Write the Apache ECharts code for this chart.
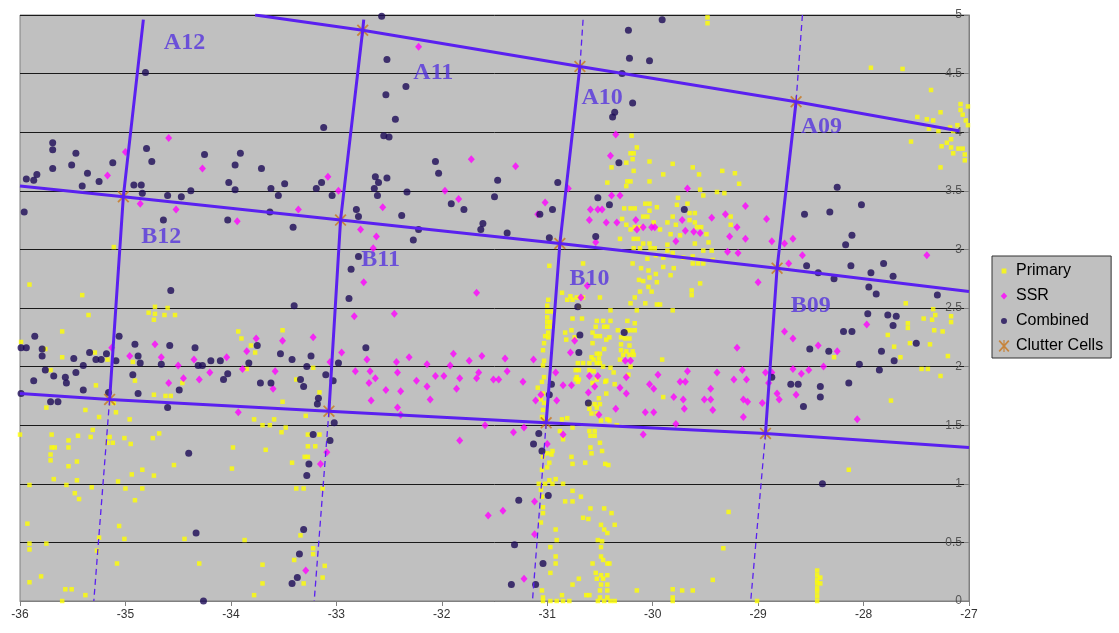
<!DOCTYPE html>
<html>
<head>
<meta charset="utf-8">
<script src="https://cdn.jsdelivr.net/npm/echarts@6/dist/echarts.min.js"></script>
<style>html,body{margin:0;padding:0;background:#fff}#c{width:1119px;height:633px}</style>
</head>
<body>
<div id="c"></div>
<script>
// ---------- data (x = longitude-like value, y = value) ----------
const primaryWest = [[-34.72,2.51],[-34.60,2.50],[-34.78,2.46],[-34.72,2.45],[-34.63,2.44],[-34.53,2.44],[-34.73,2.40],[-35.35,2.44],[-35.60,2.30],[-33.93,2.30],[-33.90,2.24],[-33.51,2.31],[-35.99,2.21],[-35.76,2.15],[-35.60,2.08],[-35.17,2.06],[-35.29,2.12],[-34.93,2.04],[-35.71,1.97],[-33.85,1.98],[-33.81,2.18],[-33.77,2.12],[-35.28,1.84],[-34.91,1.88],[-34.46,1.86],[-34.73,1.76],[-34.62,1.75],[-34.57,1.75],[-33.22,1.99],[-33.38,1.89],[-33.16,1.78],[-35.11,1.69],[-35.09,1.61],[-35.38,1.63],[-35.75,1.65],[-35.25,1.57],[-34.96,1.55],[-33.51,1.70],[-33.29,1.58],[-33.78,1.55],[-33.59,1.55],[-33.70,1.50],[-33.63,1.50],[-33.48,1.48],[-33.52,1.44],[-35.31,1.46],[-35.33,1.40],[-36.00,1.42],[-35.70,1.42],[-35.45,1.41],[-35.15,1.40],[-35.12,1.35],[-35.17,1.35],[-35.01,1.39],[-34.95,1.34],[-34.74,1.39],[-34.68,1.43],[-35.54,1.37],[-35.70,1.31],[-35.67,1.31],[-35.54,1.31],[-35.71,1.25],[-35.71,1.20],[-35.46,1.19],[-35.54,1.15],[-35.68,1.04],[-35.46,1.03],[-35.91,0.99],[-35.56,0.99],[-35.48,0.92],[-35.44,0.87],[-35.32,0.97],[-35.07,1.02],[-35.00,0.96],[-34.94,1.08],[-34.84,1.12],[-34.84,0.96],[-34.73,1.07],[-34.91,0.86],[-34.54,1.16],[-33.98,1.31],[-33.99,1.13],[-33.67,1.29],[-33.27,1.42],[-33.16,1.42],[-33.27,1.32],[-33.20,1.32],[-33.42,1.18],[-33.30,1.23],[-33.27,1.23],[-33.38,0.96],[-33.31,0.96],[-33.13,0.96],[-35.93,0.66],[-35.91,0.49],[-35.91,0.44],[-35.75,0.49],[-35.06,0.64],[-35.01,0.53],[-35.25,0.54],[-34.44,0.53],[-33.87,0.52],[-33.34,0.56],[-33.22,0.45],[-33.22,0.40],[-33.40,0.35],[-35.08,0.32],[-34.30,0.32],[-33.70,0.31],[-33.11,0.30],[-35.80,0.21],[-35.91,0.16],[-35.57,0.10],[-35.51,0.10],[-35.38,0.05],[-35.60,0.00],[-33.78,0.05],[-33.70,0.15],[-33.31,0.15],[-33.13,0.20],[-35.27,0.43],[-35.11,3.02],[-35.91,2.70],[-35.41,2.61]];

const primaryCentre = [[-30.99,2.57],[-31.00,2.52],[-31.00,2.47],[-30.96,2.47],[-31.00,2.42],[-31.00,2.38],[-30.97,2.38],[-31.00,2.34],[-30.97,2.34],[-30.99,2.29],[-30.99,2.25],[-31.03,2.20],[-31.04,2.14],[-31.03,2.05],[-31.04,2.01],[-31.03,1.91],[-31.05,1.87],[-31.09,1.82],[-31.04,1.77],[-31.06,1.72],[-31.03,1.69],[-31.04,1.63],[-31.05,1.57],[-31.03,1.54],[-30.98,2.86],[-30.66,2.88],[-30.86,2.63],[-30.78,2.60],[-30.72,2.59],[-30.81,2.57],[-30.76,2.57],[-30.70,2.51],[-30.67,2.41],[-30.76,2.41],[-30.77,2.31],[-30.83,2.29],[-30.82,2.23],[-30.74,2.25],[-30.66,2.59],[-30.50,2.59],[-30.40,2.48],[-30.21,2.54],[-30.15,2.48],[-29.93,2.53],[-29.81,2.48],[-30.07,2.54],[-29.96,2.53],[-30.17,2.59],[-30.12,2.64],[-30.01,2.64],[-30.04,2.68],[-29.63,2.65],[-29.63,2.61],[-30.53,2.39],[-30.47,2.39],[-30.40,2.39],[-30.24,2.39],[-30.17,2.37],[-30.24,2.31],[-30.21,2.31],[-30.17,2.31],[-30.54,2.34],[-30.43,2.34],[-30.41,2.25],[-30.57,2.20],[-30.30,2.25],[-30.26,2.24],[-30.22,2.24],[-30.30,2.19],[-30.22,2.18],[-31.02,2.26],[-30.53,2.11],[-30.50,2.11],[-30.30,2.14],[-30.25,2.13],[-30.19,2.13],[-30.28,2.10],[-30.22,2.10],[-30.18,2.10],[-30.71,2.03],[-30.66,2.03],[-30.60,2.03],[-30.53,2.03],[-30.50,2.03],[-30.58,2.08],[-30.51,2.07],[-29.91,2.06],[-30.47,2.00],[-30.37,1.95],[-30.23,1.93],[-30.73,1.97],[-30.70,1.97],[-30.73,1.89],[-30.70,1.89],[-30.71,1.87],[-30.45,1.87],[-30.57,1.86],[-30.44,1.77],[-30.51,1.73],[-30.60,1.68],[-30.55,1.68],[-30.50,1.68],[-30.60,1.64],[-30.53,1.65],[-30.58,1.60],[-30.53,1.60],[-30.43,1.55],[-29.90,1.74],[-30.34,1.50],[-30.86,1.55],[-30.81,1.56],[-30.88,1.45],[-30.85,1.38],[-30.60,1.45],[-30.55,1.45],[-30.59,1.41],[-30.55,1.41],[-30.59,1.31],[-30.50,1.35],[-30.48,1.28],[-30.58,1.26],[-30.64,1.18],[-30.45,1.17],[-30.42,1.16],[-30.77,1.23],[-30.76,1.17],[-31.00,1.26],[-30.96,1.25],[-30.98,1.18],[-31.05,1.12],[-30.98,1.03],[-31.08,1.00],[-31.02,1.00],[-30.95,1.00],[-30.85,1.00],[-30.92,1.04],[-30.76,0.94],[-30.83,0.85],[-30.76,0.85],[-30.68,0.89],[-31.06,0.95],[-31.05,0.89],[-31.04,0.80],[-31.04,0.75],[-31.06,0.67],[-30.59,0.79],[-30.46,0.79],[-30.39,0.75],[-30.66,0.71],[-30.61,0.70],[-30.49,0.65],[-30.36,0.65],[-30.46,0.61],[-30.43,0.58],[-30.92,0.61],[-30.91,0.52],[-30.52,0.52],[-30.48,0.51],[-30.49,0.46],[-30.97,0.46],[-30.92,0.38],[-30.92,0.32],[-30.49,0.38],[-30.47,0.35],[-30.43,0.32],[-30.57,0.32],[-30.97,0.24],[-30.70,0.19],[-30.54,0.24],[-30.49,0.22],[-30.43,0.22],[-30.53,0.19],[-30.47,0.19],[-30.49,0.14],[-30.43,0.14],[-30.76,0.14],[-30.63,0.05],[-30.60,0.05],[-30.50,0.09],[-30.43,0.09],[-30.50,0.03],[-30.43,0.03],[-31.05,0.09],[-31.04,0.03],[-30.86,0.05],[-31.04,0.00],[-30.97,0.00],[-30.91,0.00],[-30.85,0.00],[-30.79,0.00],[-30.52,0.00],[-30.46,0.00],[-30.40,0.00],[-30.15,0.09],[-29.81,0.10],[-29.81,0.03],[-29.81,0.00],[-29.72,0.09],[-29.62,0.09],[-29.43,0.18],[-29.33,0.45],[-29.28,0.76],[-29.01,0.00],[-30.41,0.32],[-30.36,0.00],[-30.95,1.28],[-31.00,1.14],[-31.04,1.23],[-30.46,2.34],[-30.57,2.29],[-30.54,2.26],[-30.50,2.26],[-30.44,2.23],[-30.46,2.15],[-30.56,2.06],[-30.60,1.97],[-30.56,1.96],[-30.72,1.91],[-30.53,1.89],[-30.44,1.88],[-30.33,2.31],[-30.31,2.06],[-30.21,2.00],[-30.49,1.54],[-30.41,1.54],[-30.76,1.48],[-30.36,1.85],[-30.40,1.99]];

const primaryUpper = [[-30.20,3.97],[-30.15,3.87],[-30.21,3.82],[-30.18,3.82],[-30.19,3.77],[-30.25,3.74],[-30.39,3.70],[-30.03,3.75],[-29.81,3.73],[-29.62,3.70],[-30.18,3.67],[-29.90,3.64],[-29.56,3.64],[-29.34,3.67],[-29.22,3.65],[-30.43,3.57],[-30.24,3.58],[-30.21,3.58],[-30.25,3.54],[-30.03,3.58],[-29.18,3.56],[-29.55,3.51],[-29.52,3.46],[-29.39,3.49],[-29.32,3.48],[-29.76,3.44],[-29.77,3.38],[-29.67,3.39],[-30.27,3.35],[-30.21,3.35],[-30.17,3.35],[-30.07,3.39],[-30.03,3.39],[-29.96,3.36],[-30.03,3.33],[-30.29,3.26],[-30.09,3.28],[-30.05,3.28],[-30.25,3.21],[-30.17,3.19],[-30.12,3.19],[-30.21,3.17],[-29.99,3.23],[-29.93,3.17],[-29.86,3.23],[-29.81,3.28],[-29.78,3.21],[-29.83,3.13],[-29.74,3.12],[-29.65,3.31],[-29.60,3.31],[-29.65,3.25],[-29.60,3.23],[-29.58,3.19],[-29.54,3.19],[-29.49,3.13],[-29.60,3.05],[-29.47,3.06],[-29.52,2.99],[-29.44,2.99],[-29.26,3.28],[-29.26,3.21],[-30.31,3.09],[-30.18,3.09],[-30.14,3.09],[-30.09,3.05],[-30.03,3.05],[-30.18,3.01],[-30.12,3.01],[-30.02,3.01],[-29.98,3.01],[-29.86,3.04],[-29.86,2.99],[-30.05,2.92],[-29.97,2.95],[-29.90,2.93],[-29.81,2.97],[-29.71,2.93],[-29.62,2.88],[-29.57,2.88],[-29.52,2.88],[-29.62,2.94],[-29.43,2.91],[-30.19,2.88],[-30.11,2.84],[-30.04,2.82],[-30.03,2.76],[-29.97,2.79],[-29.90,2.85],[-29.80,2.84],[-29.83,2.78],[-30.13,2.74],[-30.09,2.73],[-29.96,2.72],[-29.55,2.71],[-29.48,4.98],[-29.48,4.93]];

const primaryEast = [[-27.93,4.55],[-27.63,4.54],[-27.36,4.36],[-27.27,4.17],[-27.49,4.13],[-27.40,4.11],[-27.34,4.10],[-27.38,4.03],[-27.29,4.01],[-27.55,3.92],[-27.26,3.88],[-27.21,3.91],[-27.17,3.94],[-27.17,3.87],[-27.10,3.86],[-27.06,3.86],[-27.15,3.82],[-27.04,3.81],[-27.04,3.76],[-27.27,3.70],[-27.08,4.24],[-27.01,4.22],[-27.08,4.19],[-27.06,4.15],[-27.03,4.10],[-27.01,4.06],[-27.11,4.06],[-27.15,4.01],[-27.18,4.04],[-27.60,2.54],[-27.34,2.49],[-27.32,2.44],[-27.43,2.41],[-27.35,2.40],[-27.58,2.37],[-27.58,2.33],[-27.17,2.43],[-27.17,2.38],[-27.33,2.31],[-27.25,2.30],[-27.77,2.27],[-27.56,2.20],[-27.37,2.19],[-27.71,2.17],[-27.65,2.08],[-28.28,2.08],[-27.20,2.09],[-27.45,1.98],[-27.39,1.98],[-27.27,1.92],[-27.74,1.71],[-28.14,1.12],[-28.44,0.26],[-28.44,0.22],[-28.44,0.18],[-28.44,0.15],[-28.44,0.11],[-28.44,0.08],[-28.44,0.04],[-28.44,0.00],[-28.41,0.20],[-28.41,0.15]];

const ssrEast = [[-34.59,3.95],[-35.00,3.83],[-34.27,3.69],[-35.17,3.63],[-33.08,3.62],[-32.98,3.50],[-34.86,3.39],[-34.52,3.34],[-33.36,3.34],[-33.94,3.24],[-32.56,3.36],[-32.77,3.17],[-32.62,3.11],[-32.65,3.01],[-32.74,2.72],[-32.83,2.43],[-32.45,2.45],[-32.22,4.73],[-30.35,3.98],[-30.40,3.80],[-31.72,3.77],[-31.30,3.71],[-31.97,3.50],[-31.84,3.43],[-30.80,3.52],[-31.02,3.40],[-31.09,3.30],[-30.59,3.34],[-30.52,3.34],[-30.48,3.34],[-30.60,3.25],[-30.44,3.23],[-30.34,3.23],[-30.39,3.46],[-30.31,3.46],[-30.16,3.25],[-30.15,3.17],[-30.09,3.19],[-30.01,3.19],[-29.98,3.19],[-30.54,3.06],[-29.67,3.52],[-29.72,3.25],[-29.69,3.16],[-29.78,3.07],[-29.61,3.15],[-29.55,3.14],[-29.44,3.27],[-29.31,3.30],[-29.20,3.19],[-29.12,3.37],[-29.27,3.11],[-29.12,3.09],[-29.29,2.98],[-29.19,2.97],[-28.92,3.26],[-28.87,3.07],[-29.00,2.72],[-31.67,2.63],[-30.62,2.69],[-30.68,2.59],[-28.75,3.05],[-28.67,3.09],[-28.58,2.95],[-28.71,2.88],[-27.40,2.95],[-28.75,2.30],[-28.67,2.24],[-28.43,2.18],[-28.25,2.13],[-27.97,2.36],[-28.38,2.00],[-28.67,1.98],[-28.59,1.94],[-28.52,1.97],[-28.93,1.95],[-28.87,1.95],[-28.90,1.86],[-28.64,1.76],[-28.82,1.77],[-28.80,1.72],[-28.96,1.69],[-28.06,1.55]];

const ssrWest = [[-35.13,2.16],[-34.72,2.19],[-34.96,2.09],[-34.66,2.08],[-34.50,2.01],[-34.59,1.86],[-34.45,1.90],[-34.35,2.06],[-34.30,1.89],[-34.20,1.95],[-34.04,2.08],[-33.89,1.98],[-33.85,2.13],[-33.76,2.24],[-33.58,1.96],[-33.60,1.81],[-33.51,2.22],[-33.93,1.61],[-33.22,2.25],[-33.06,2.04],[-32.95,2.12],[-32.71,2.06],[-32.82,1.96],[-32.68,1.96],[-32.63,1.90],[-32.69,1.86],[-32.53,1.80],[-32.67,1.71],[-32.42,1.65],[-32.43,2.04],[-32.42,1.95],[-33.09,1.27],[-33.15,1.17],[-33.29,0.26]];

const ssrCentre = [[-32.31,2.08],[-32.39,1.79],[-32.39,1.59],[-32.24,1.88],[-32.14,2.02],[-32.11,1.72],[-32.14,1.83],[-32.06,1.92],[-31.98,1.92],[-31.92,2.01],[-31.89,2.11],[-31.86,1.81],[-31.83,1.90],[-31.74,2.05],[-31.67,1.90],[-31.65,1.95],[-31.62,2.09],[-31.51,1.89],[-31.46,1.89],[-31.40,2.07],[-31.38,1.96],[-31.23,1.87],[-31.13,2.06],[-31.11,1.71],[-31.59,1.50],[-31.32,1.44],[-31.22,1.48],[-31.83,1.37],[-31.06,1.76],[-30.91,1.71],[-30.92,1.95],[-30.85,1.42],[-31.00,1.34],[-30.74,2.22],[-30.78,2.12],[-30.85,1.84],[-30.77,1.84],[-30.61,1.78],[-30.60,1.92],[-30.52,1.92],[-30.55,1.83],[-30.35,1.64],[-30.51,1.59],[-30.31,1.82],[-30.25,1.91],[-30.25,1.77],[-30.26,2.05],[-30.21,2.05],[-30.07,1.61],[-29.99,1.61],[-30.03,1.85],[-29.99,1.81],[-29.95,1.93],[-29.80,1.74],[-29.74,1.87],[-29.69,1.87],[-29.71,1.72],[-29.70,1.64],[-29.67,1.96],[-29.78,1.51],[-30.09,1.42],[-29.51,1.72],[-29.45,1.72],[-29.45,1.81],[-29.43,1.63],[-29.39,1.95],[-29.23,1.89],[-29.15,1.97],[-29.11,1.89],[-29.14,1.72],[-29.10,1.70],[-29.14,1.57],[-29.20,2.16],[-31.12,0.85],[-31.42,0.77],[-31.56,0.73],[-31.12,0.57],[-31.22,0.19]];

const combinedUpper = [[-32.57,4.99],[-34.81,4.51],[-32.52,4.62],[-32.53,4.32],[-32.44,4.11],[-33.12,4.04],[-32.55,3.97],[-32.50,3.96],[-35.69,3.91],[-35.69,3.85],[-35.47,3.82],[-34.80,3.86],[-34.75,3.75],[-34.25,3.81],[-33.91,3.82],[-35.51,3.72],[-35.69,3.69],[-35.12,3.74],[-33.96,3.72],[-33.71,3.69],[-35.84,3.64],[-35.94,3.60],[-35.87,3.59],[-35.36,3.65],[-35.25,3.58],[-35.41,3.54],[-32.63,3.62],[-32.52,3.61],[-32.60,3.57],[-34.92,3.55],[-34.85,3.55],[-34.84,3.48],[-34.60,3.46],[-34.47,3.45],[-34.38,3.50],[-34.02,3.57],[-33.96,3.51],[-33.62,3.52],[-33.55,3.46],[-33.49,3.56],[-33.19,3.52],[-33.14,3.57],[-33.04,3.46],[-32.64,3.52],[-32.61,3.46],[-35.96,3.32],[-34.64,3.25],[-34.03,3.25],[-33.63,3.32],[-33.41,3.19],[-32.81,3.34],[-32.79,3.28],[-32.79,2.94],[-32.86,2.83],[-34.57,2.65],[-33.40,2.52],[-32.88,2.58],[-30.23,4.87],[-29.91,4.96],[-30.22,4.63],[-30.03,4.61],[-30.29,4.50],[-32.34,4.39],[-30.19,4.25],[-30.36,4.17],[-30.38,4.13],[-32.06,3.75],[-32.03,3.65],[-30.32,3.74],[-31.47,3.59],[-30.90,3.57],[-32.33,3.49],[-31.50,3.45],[-31.91,3.39],[-31.79,3.34],[-30.52,3.44],[-30.41,3.38],[-29.70,3.34],[-32.38,3.29],[-31.07,3.30],[-30.95,3.34],[-31.61,3.22],[-31.63,3.17],[-32.22,3.17],[-31.38,3.14],[-32.27,3.08],[-30.98,3.10],[-30.54,3.11],[-30.71,2.51]];

const combinedEast = [[-28.25,3.53],[-28.56,3.30],[-28.32,3.32],[-28.02,3.38],[-28.11,3.12],[-28.17,3.04],[-28.54,2.86],[-28.43,2.80],[-28.28,2.75],[-28.12,2.86],[-27.93,2.80],[-27.81,2.88],[-27.72,2.77],[-27.95,2.68],[-27.88,2.62],[-27.30,2.61],[-27.96,2.45],[-27.77,2.44],[-27.69,2.43],[-27.72,2.35],[-27.50,2.20],[-28.19,2.30],[-28.11,2.30],[-28.51,2.15],[-28.33,2.13],[-27.83,2.13],[-27.71,2.05],[-28.04,2.02],[-27.85,1.97],[-28.87,1.91],[-28.69,1.85],[-28.62,1.85],[-28.41,1.83],[-28.14,1.86],[-28.41,1.74],[-28.57,1.66],[-28.39,1.00]];

const combinedLower = [[-35.86,2.26],[-35.06,2.26],[-35.99,2.16],[-35.94,2.16],[-35.79,2.15],[-35.79,2.09],[-34.91,2.19],[-34.58,2.18],[-34.34,2.16],[-33.75,2.18],[-35.34,2.12],[-35.18,2.11],[-35.28,2.06],[-35.23,2.06],[-35.49,2.07],[-35.40,2.01],[-35.09,2.05],[-34.88,2.09],[-34.86,2.03],[-34.66,2.02],[-34.31,2.01],[-34.27,2.01],[-34.19,2.05],[-34.10,2.05],[-33.83,2.03],[-33.53,2.11],[-33.42,2.06],[-33.24,2.09],[-33.28,2.00],[-32.72,2.16],[-32.98,2.03],[-35.76,1.97],[-35.47,1.95],[-35.68,1.92],[-35.57,1.91],[-35.56,1.86],[-35.87,1.88],[-34.93,1.93],[-34.03,1.94],[-34.07,1.89],[-33.72,1.86],[-33.62,1.86],[-33.34,1.89],[-33.31,1.83],[-33.10,1.93],[-33.03,1.88],[-34.49,1.80],[-35.40,1.80],[-35.16,1.78],[-34.88,1.77],[-35.99,1.77],[-33.17,1.73],[-33.18,1.68],[-35.71,1.70],[-35.64,1.70],[-34.60,1.65],[-33.02,1.52],[-33.22,1.42],[-33.06,1.37],[-34.40,1.26],[-33.26,1.17],[-33.28,1.07],[-34.33,0.58],[-33.31,0.61],[-33.35,0.40],[-33.37,0.20],[-33.42,0.15],[-34.26,0.00],[-30.69,2.27],[-30.70,2.12],[-30.27,2.29],[-30.96,1.85],[-30.98,1.76],[-30.61,1.69],[-31.08,1.43],[-31.13,1.34],[-31.05,1.28],[-30.99,0.90],[-31.27,0.86],[-31.31,0.48],[-31.04,0.32],[-31.34,0.14],[-31.11,0.14]];

const clutterCells = [[-32.75,4.87],[-30.69,4.56],[-28.64,4.26],[-35.02,3.45],[-32.96,3.25],[-30.88,3.05],[-28.82,2.84],[-35.15,1.72],[-33.07,1.62],[-31.01,1.52],[-28.93,1.43]];

// cell boundary lines (solid) and their dashed extensions
const lineA = [[-33.77,5.00],[-32.75,4.87],[-30.69,4.56],[-28.64,4.26],[-27.09,4.01]];
const lineB = [[-36.00,3.54],[-35.02,3.45],[-32.96,3.25],[-30.88,3.05],[-28.82,2.84],[-27.00,2.64]];
const lineC = [[-36.00,1.77],[-35.15,1.72],[-33.07,1.62],[-31.01,1.52],[-28.93,1.43],[-27.00,1.31]];
const line12 = [[-34.83,4.96],[-35.02,3.45],[-35.15,1.72]];
const line11 = [[-32.74,4.96],[-32.75,4.87],[-32.96,3.25],[-33.07,1.62]];
const line10 = [[-30.69,4.56],[-30.88,3.05],[-31.01,1.52]];
const line09 = [[-28.64,4.26],[-28.82,2.84],[-28.93,1.43]];
const dash12 = [[-35.15,1.72],[-35.30,0.00]];
const dash11 = [[-33.07,1.62],[-33.21,0.00]];
const dash10top = [[-30.66,4.96],[-30.69,4.56]];
const dash10 = [[-31.01,1.52],[-31.14,0.00]];
const dash09top = [[-28.58,5.00],[-28.64,4.26]];
const dash09 = [[-28.93,1.43],[-29.07,0.00]];

const cellNames = ['A12','A11','A10','A09','B12','B11','B10','B09'];
const cellLabelX = [-34.44,-32.08,-30.48,-28.40,-34.66,-32.58,-30.60,-28.50];
const cellLabelY = [4.76,4.51,4.29,4.05,3.11,2.91,2.75,2.52];

const xTicks = {min:-36, max:-27, interval:1};
const yTicks = {min:0, max:5, interval:0.5};

// ---------- chart ----------
const LINE = '#5a20f0';
const LABEL = '#5533dd';
const starPath = 'path://M9,0L11,0L11,20L9,20Z M1,2L3,0L19,18L17,20Z M17,0L19,2L3,20L1,18Z';
const pad = 'M0,0L0.01,0L0.01,0.01Z M14,14L13.99,14L13.99,13.99Z ';
const iconSquare = 'path://' + pad + 'M4.6,4.6L9.4,4.6L9.4,9.4L4.6,9.4Z';
const iconDiamond = 'path://' + pad + 'M7,3.4L10.2,7L7,10.6L3.8,7Z';
const iconCircle = 'path://' + pad + 'M4,7A3,3 0 1,1 10,7A3,3 0 1,1 4,7Z';
const iconStar = 'path://' + pad + 'M6.4,1L7.6,1L7.6,13L6.4,13Z M1.6,2.2L2.8,1L12.4,11.8L11.2,13Z M11.2,1L12.4,2.2L2.8,13L1.6,11.8Z';

function solid(data){return {type:'line',data:data,symbol:'none',silent:true,z:5,
  lineStyle:{color:LINE,width:3},legendHoverLink:false};}
function dashed(data){return {type:'line',data:data,symbol:'none',silent:true,z:5,
  lineStyle:{color:LINE,width:1.3,type:[6,4]}};}

const chart = echarts.init(document.getElementById('c'), null, {renderer:'canvas'});
chart.setOption({
  animation:false,
  backgroundColor:'#ffffff',
  grid:{left:20,right:150,top:15,bottom:32,show:true,backgroundColor:'#c0c0c0',borderColor:'#808080',borderWidth:1},
  xAxis:{type:'value',min:xTicks.min,max:xTicks.max,interval:xTicks.interval,
    axisLine:{show:true,onZero:false,lineStyle:{color:'#808080'}},
    axisTick:{show:true,length:5,lineStyle:{color:'#808080'}},
    axisLabel:{color:'#333',fontSize:12,fontFamily:'Liberation Sans, Arial, sans-serif',margin:8},
    splitLine:{show:false}},
  yAxis:{type:'value',position:'right',min:yTicks.min,max:yTicks.max,interval:yTicks.interval,
    axisLine:{show:true,lineStyle:{color:'#808080'}},
    axisTick:{show:true,inside:true,length:5,lineStyle:{color:'#808080'}},
    axisLabel:{inside:true,color:'#555',fontSize:12,fontFamily:'Liberation Sans, Arial, sans-serif',margin:7},
    splitLine:{show:true,lineStyle:{color:'#1a1a1a',width:1}}},
  legend:{
    orient:'vertical',left:992,top:256,
    padding:[7,8,4,5],itemGap:9,itemWidth:14,itemHeight:14,itemTextGap:4,
    backgroundColor:'#c0c0c0',borderColor:'#333',borderWidth:1,
    textStyle:{color:'#000',fontSize:16,fontFamily:'Liberation Sans, Arial, sans-serif'},
    data:[{name:'Primary',icon:iconSquare},{name:'SSR',icon:iconDiamond},
          {name:'Combined',icon:iconCircle},{name:'Clutter Cells',icon:iconStar}]
  },
  series:[
    {name:'Primary',type:'scatter',symbol:'rect',symbolSize:4.5,z:2,
     itemStyle:{color:'#ffff00'},data:primaryWest.concat(primaryCentre,primaryUpper,primaryEast)},
    {name:'SSR',type:'scatter',symbol:'diamond',symbolSize:[7,8],z:3,
     itemStyle:{color:'#ff00ff'},data:ssrEast.concat(ssrWest,ssrCentre)},
    {name:'Combined',type:'scatter',symbol:'circle',symbolSize:7,z:4,
     itemStyle:{color:'#1c0a56'},data:combinedUpper.concat(combinedEast,combinedLower)},
    {name:'Clutter Cells',type:'scatter',symbol:starPath,symbolSize:12,z:4,
     itemStyle:{color:'#c8761c'},data:clutterCells},
    solid(lineA),solid(lineB),solid(lineC),solid(line12),solid(line11),solid(line10),solid(line09),
    dashed(dash12),dashed(dash11),dashed(dash10top),dashed(dash10),dashed(dash09top),dashed(dash09),
    {type:'scatter',silent:true,z:6,symbolSize:1,itemStyle:{color:'rgba(0,0,0,0)'},
     data:cellNames.map((n,i)=>({name:n,value:[cellLabelX[i],cellLabelY[i]]})),
     label:{show:true,position:'inside',formatter:p=>p.name,color:LABEL,fontSize:24,fontWeight:'bold',
       fontFamily:'Liberation Serif, Times New Roman, serif'}}
  ]
});
</script>
</body>
</html>
